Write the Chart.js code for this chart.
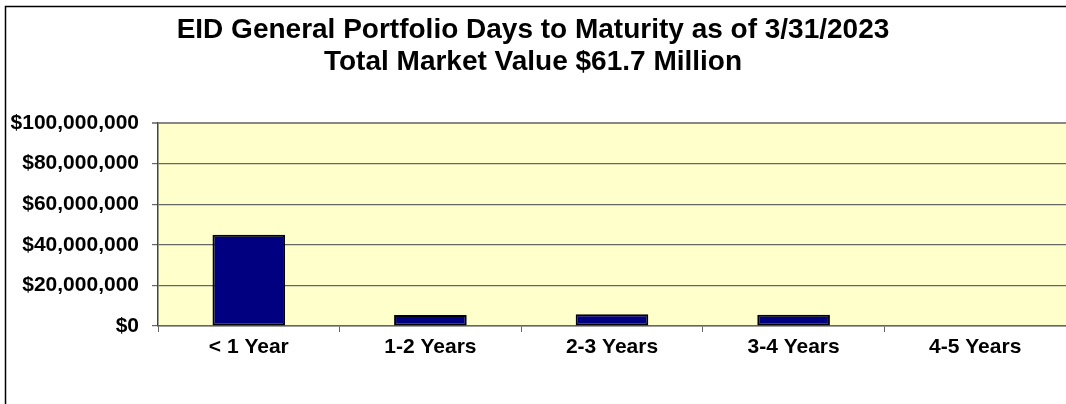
<!DOCTYPE html>
<html>
<head>
<meta charset="utf-8">
<script src="https://cdn.jsdelivr.net/npm/chart.js@4"></script>
<style>
  html, body { margin: 0; padding: 0; background: #fff; }
  #wrap { position: relative; width: 1066px; height: 404px; overflow: hidden; }
</style>
</head>
<body>
<div id="wrap"><canvas id="maturityChart" width="1066" height="404"></canvas></div>
<script>
  // days to maturity buckets
  const categories = ['< 1 Year', '1-2 Years', '2-3 Years', '3-4 Years', '4-5 Years'];
  const marketValues = [44900000, 5400000, 5800000, 5600000, 0]; // dollars
  const yTicks = [0, 20000000, 40000000, 60000000, 80000000, 100000000];
  const titleLines = ['EID General Portfolio Days to Maturity as of 3/31/2023', 'Total Market Value $61.7 Million'];

  // yellow plot area + the chart frame at top/left
  const plotBg = {
    id: 'plotBg',
    beforeDraw(chart) {
      const { ctx, chartArea: a } = chart;
      ctx.save();
      ctx.fillStyle = '#FFFFCC';
      ctx.fillRect(a.left, a.top, a.right - a.left, a.bottom - a.top);
      ctx.strokeStyle = '#000';
      ctx.lineWidth = 1.5;
      ctx.beginPath();
      ctx.moveTo(5.5, 404);
      ctx.lineTo(5.5, 6.5);
      ctx.lineTo(1066, 6.5);
      ctx.stroke();
      ctx.restore();
    }
  };

  const ctx = document.getElementById('maturityChart').getContext('2d');
  const maturityChart = new Chart(ctx, {
    type: 'bar',
    data: {
      labels: categories,
      datasets: [{
        data: marketValues,
        backgroundColor: '#000080',
        borderColor: '#000',
        borderWidth: 2,
        borderSkipped: false,
        barPercentage: 0.4,
        categoryPercentage: 1
      }]
    },
    options: {
      responsive: false,
      animation: false,
      layout: { padding: { left: 0, right: 0, top: 0, bottom: 0 } },
      scales: {
        x: {
          grid: { drawOnChartArea: false, drawTicks: true, tickLength: 6, color: '#666', offset: true },
          border: { color: '#666', width: 1.5 },
          ticks: { color: '#000', padding: 3, font: { family: 'Liberation Sans, Arial', size: 21, weight: 'bold' } },
          afterFit(scale) { scale.height = 78; }
        },
        y: {
          min: 0,
          max: 100000000,
          afterBuildTicks(scale) { scale.ticks = yTicks.map(v => ({ value: v })); },
          grid: {
            tickLength: 6,
            color: c => c.tick && c.tick.value === 100000000 ? '#888' : '#666',
            lineWidth: c => c.tick && c.tick.value === 100000000 ? 2 : 1.2
          },
          border: { color: '#444', width: 1.5 },
          ticks: {
            color: '#000',
            padding: 13,
            font: { family: 'Liberation Sans, Arial', size: 21, weight: 'bold' },
            callback: v => '$' + v.toLocaleString('en-US')
          },
          afterFit(scale) { scale.width = 158; }
        }
      },
      plugins: {
        legend: { display: false },
        tooltip: { enabled: false },
        title: {
          display: true,
          text: titleLines,
          color: '#000',
          font: { family: 'Liberation Sans, Arial', size: 28, weight: 'bold', lineHeight: 1.143 },
          padding: { top: 14, bottom: 45 }
        }
      }
    },
    plugins: [plotBg]
  });
</script>
</body>
</html>
